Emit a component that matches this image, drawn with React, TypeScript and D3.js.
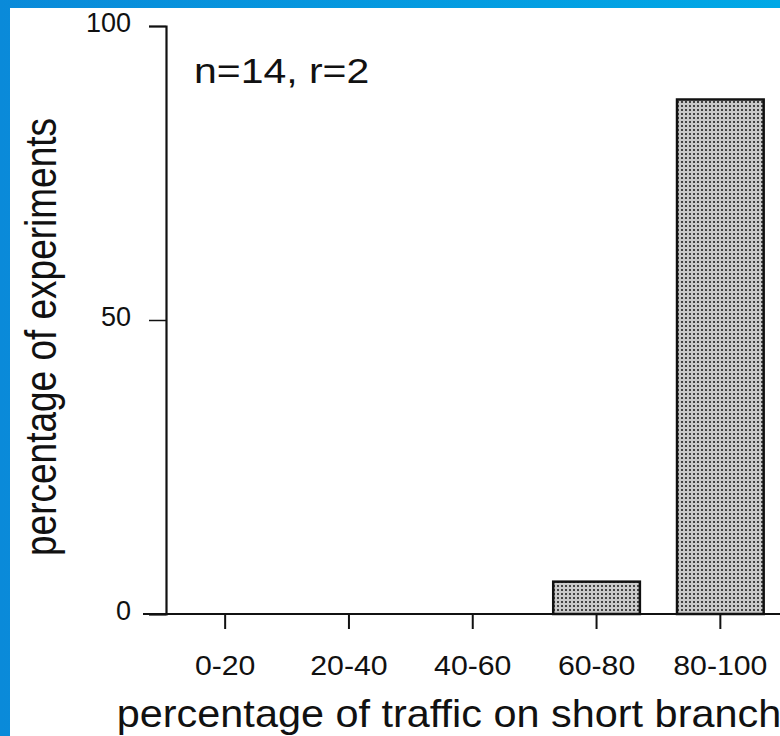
import React, { useEffect, useRef } from 'react';
import * as d3 from 'd3';

const categories = ['0-20', '20-40', '40-60', '60-80', '80-100'];
const percentages = [0, 0, 0, 5.5, 87.5];
const yTicks = [0, 50, 100];
const annotation = 'n=14, r=2';
const xTitle = 'percentage of traffic on short branch';
const yTitle = 'percentage of experiments';

const W = 780;
const H = 736;
const FONT = '"Liberation Sans", Arial, Helvetica, sans-serif';

const App: React.FC = () => {
  const svgRef = useRef<SVGSVGElement>(null);

  useEffect(() => {
    if (!svgRef.current) return;
    const svg = d3.select(svgRef.current);
    svg.selectAll('*').remove();

    const defs = svg.append('defs');
    const grad = defs.append('linearGradient').attr('id', 'frame').attr('x1', 0).attr('x2', 1);
    grad.append('stop').attr('offset', 0).attr('stop-color', '#0a8ad9');
    grad.append('stop').attr('offset', 1).attr('stop-color', '#00a8e6');

    // halftone-ish fill of the scanned bars
    const pat = defs.append('pattern')
      .attr('id', 'dots')
      .attr('width', 4)
      .attr('height', 4)
      .attr('patternUnits', 'userSpaceOnUse');
    pat.append('rect').attr('width', 4).attr('height', 4).attr('fill', '#cacaca');
    pat.append('rect').attr('x', 1).attr('y', 1).attr('width', 2).attr('height', 2).attr('fill', '#444');

    // blue frame + white page
    svg.append('rect').attr('width', W).attr('height', H).attr('fill', 'url(#frame)');
    svg.append('rect').attr('x', 10).attr('y', 8).attr('width', W - 10).attr('height', H - 8).attr('fill', '#fff');

    const x = d3.scaleBand<string>()
      .domain(categories)
      .range([163.5, 782])
      .paddingInner(0.3)
      .paddingOuter(0.148);

    const y = d3.scaleLinear().domain([0, 100]).range([614, 26]);

    const axisX = 166;

    // bars
    svg.append('g')
      .selectAll('rect')
      .data(categories)
      .join('rect')
      .attr('x', (d) => x(d)!)
      .attr('y', (d, i) => y(percentages[i]))
      .attr('width', x.bandwidth())
      .attr('height', (d, i) => y(0) - y(percentages[i]))
      .attr('fill', 'url(#dots)')
      .attr('stroke', '#111')
      .attr('stroke-width', 2.5);

    // y axis
    const yAxis = d3.axisLeft(y).tickValues(yTicks).tickSize(17).tickPadding(18);
    const gy = svg.append('g').attr('transform', `translate(${axisX},0)`).call(yAxis);
    gy.select('.domain').attr('stroke', '#111').attr('stroke-width', 2.2);
    gy.selectAll('.tick line').attr('stroke', '#111').attr('stroke-width', 1.5);
    gy.selectAll('.tick text')
      .attr('font-family', FONT)
      .attr('font-size', 27)
      .attr('dy', '0.2em')
      .attr('fill', '#111');

    // baseline
    svg.append('line')
      .attr('x1', 143).attr('x2', W)
      .attr('y1', y(0)).attr('y2', y(0))
      .attr('stroke', '#111').attr('stroke-width', 2.2);

    // x axis ticks + labels
    const xAxis = d3.axisBottom(x).tickSize(14).tickPadding(26).tickSizeOuter(0);
    const gx = svg.append('g').attr('transform', `translate(0,${y(0) + 1})`).call(xAxis);
    gx.select('.domain').remove();
    gx.selectAll('.tick line').attr('stroke', '#111').attr('stroke-width', 2);
    gx.selectAll('.tick text')
      .attr('font-family', FONT)
      .attr('font-size', 28)
      .attr('fill', '#111')
      .attr('transform', 'scale(1.08,1)');

    // annotation
    svg.append('text')
      .attr('transform', 'translate(194,83) scale(1.17,1)')
      .attr('font-family', FONT).attr('font-size', 35).attr('fill', '#111')
      .text(annotation);

    // axis titles (scan is stretched sideways)
    svg.append('text')
      .attr('transform', 'translate(449,727) scale(1.09,1)')
      .attr('text-anchor', 'middle')
      .attr('font-family', FONT).attr('font-size', 38).attr('fill', '#111')
      .text(xTitle);

    svg.append('text')
      .attr('transform', 'translate(56,337) scale(1.18,1) rotate(-90)')
      .attr('text-anchor', 'middle')
      .attr('font-family', FONT).attr('font-size', 37).attr('fill', '#111')
      .text(yTitle);
  }, []);

  return <svg ref={svgRef} width={W} height={H} style={{ display: 'block', position: 'absolute', left: 0, top: 0 }} />;
};

export default App;
